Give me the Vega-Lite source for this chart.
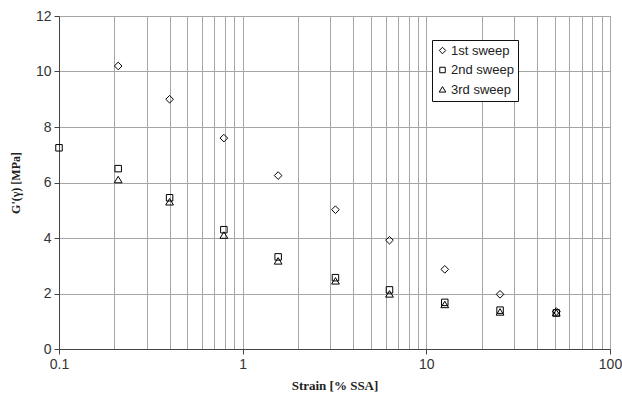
{
  "$schema": "https://vega.github.io/schema/vega-lite/v6.json",
  "autosize": "none",
  "width": 551,
  "height": 333,
  "padding": {"left": 59, "top": 16, "right": 12, "bottom": 52},
  "background": "white",
  "config": {
    "view": {"stroke": "#8c8c8c", "strokeWidth": 1},
    "font": "Liberation Sans"
  },
  "data": {
    "values": [
      {"strain": 0.21, "g": 10.2, "sweep": "1st sweep"},
      {"strain": 0.4, "g": 9.0, "sweep": "1st sweep"},
      {"strain": 0.79, "g": 7.6, "sweep": "1st sweep"},
      {"strain": 1.56, "g": 6.25, "sweep": "1st sweep"},
      {"strain": 3.2, "g": 5.02, "sweep": "1st sweep"},
      {"strain": 6.3, "g": 3.92, "sweep": "1st sweep"},
      {"strain": 12.6, "g": 2.87, "sweep": "1st sweep"},
      {"strain": 25.2, "g": 1.97, "sweep": "1st sweep"},
      {"strain": 51, "g": 1.35, "sweep": "1st sweep"},
      {"strain": 0.1, "g": 7.25, "sweep": "2nd sweep"},
      {"strain": 0.21, "g": 6.5, "sweep": "2nd sweep"},
      {"strain": 0.4, "g": 5.45, "sweep": "2nd sweep"},
      {"strain": 0.79, "g": 4.3, "sweep": "2nd sweep"},
      {"strain": 1.56, "g": 3.32, "sweep": "2nd sweep"},
      {"strain": 3.2, "g": 2.57, "sweep": "2nd sweep"},
      {"strain": 6.3, "g": 2.13, "sweep": "2nd sweep"},
      {"strain": 12.6, "g": 1.68, "sweep": "2nd sweep"},
      {"strain": 25.2, "g": 1.4, "sweep": "2nd sweep"},
      {"strain": 51, "g": 1.3, "sweep": "2nd sweep"},
      {"strain": 0.21, "g": 6.1, "sweep": "3rd sweep"},
      {"strain": 0.4, "g": 5.3, "sweep": "3rd sweep"},
      {"strain": 0.79, "g": 4.1, "sweep": "3rd sweep"},
      {"strain": 1.56, "g": 3.17, "sweep": "3rd sweep"},
      {"strain": 3.2, "g": 2.45, "sweep": "3rd sweep"},
      {"strain": 6.3, "g": 1.98, "sweep": "3rd sweep"},
      {"strain": 12.6, "g": 1.6, "sweep": "3rd sweep"},
      {"strain": 25.2, "g": 1.33, "sweep": "3rd sweep"},
      {"strain": 51, "g": 1.3, "sweep": "3rd sweep"}
    ]
  },
  "mark": {"type": "point", "filled": false, "stroke": "black", "strokeWidth": 1, "size": 42, "opacity": 1},
  "encoding": {
    "x": {
      "field": "strain",
      "type": "quantitative",
      "scale": {"type": "log", "domain": [0.1, 100], "nice": false},
      "axis": {
        "title": "Strain [% SSA]",
        "titleFont": "Liberation Serif",
        "titleFontWeight": "bold",
        "titleFontSize": 13,
        "titleColor": "#222",
        "titlePadding": 8,
        "values": [0.1, 0.2, 0.3, 0.4, 0.5, 0.6, 0.7, 0.8, 0.9, 1, 2, 3, 4, 5, 6, 7, 8, 9, 10, 20, 30, 40, 50, 60, 70, 80, 90, 100],
        "labelExpr": "indexof([0.1, 1, 10, 100], datum.value) >= 0 ? (datum.value == 0.1 ? '0.1' : format(datum.value, 'd')) : ''",
        "labelFontSize": 14,
        "labelColor": "#333",
        "labelPadding": 3,
        "labelFlush": false,
        "labelOverlap": false,
        "tickSize": 5,
        "tickColor": "#444",
        "tickOpacity": {"condition": {"test": "indexof([0.1, 1, 10, 100], datum.value) >= 0", "value": 1}, "value": 0},
        "domainColor": "#444",
        "grid": true,
        "gridColor": "#a6a6a6",
        "gridWidth": 1
      }
    },
    "y": {
      "field": "g",
      "type": "quantitative",
      "scale": {"domain": [0, 12], "nice": false},
      "axis": {
        "title": "G'(γ) [MPa]",
        "titleFont": "Liberation Serif",
        "titleFontWeight": "bold",
        "titleFontSize": 12,
        "titleColor": "#222",
        "titlePadding": 13,
        "values": [0, 2, 4, 6, 8, 10, 12],
        "labelFontSize": 14,
        "labelColor": "#333",
        "labelPadding": 3,
        "tickSize": 5,
        "tickColor": "#444",
        "domainColor": "#444",
        "grid": true,
        "gridColor": "#a6a6a6",
        "gridWidth": 1
      }
    },
    "shape": {
      "field": "sweep",
      "type": "nominal",
      "scale": {"domain": ["1st sweep", "2nd sweep", "3rd sweep"], "range": ["M0,-1.18L1.18,0L0,1.18L-1.18,0Z", "square", "M0,-1.05L1.2,0.95L-1.2,0.95Z"]},
      "legend": {
        "title": null,
        "orient": "none",
        "legendX": 373,
        "legendY": 24,
        "padding": 4,
        "fillColor": "white",
        "strokeColor": "#111",
        "symbolStrokeColor": "black",
        "symbolFillColor": "transparent",
        "symbolSize": 30,
        "symbolStrokeWidth": 1,
        "labelFontSize": 13,
        "labelColor": "#222",
        "labelOffset": 2,
        "rowPadding": 5.5
      }
    }
  }
}
